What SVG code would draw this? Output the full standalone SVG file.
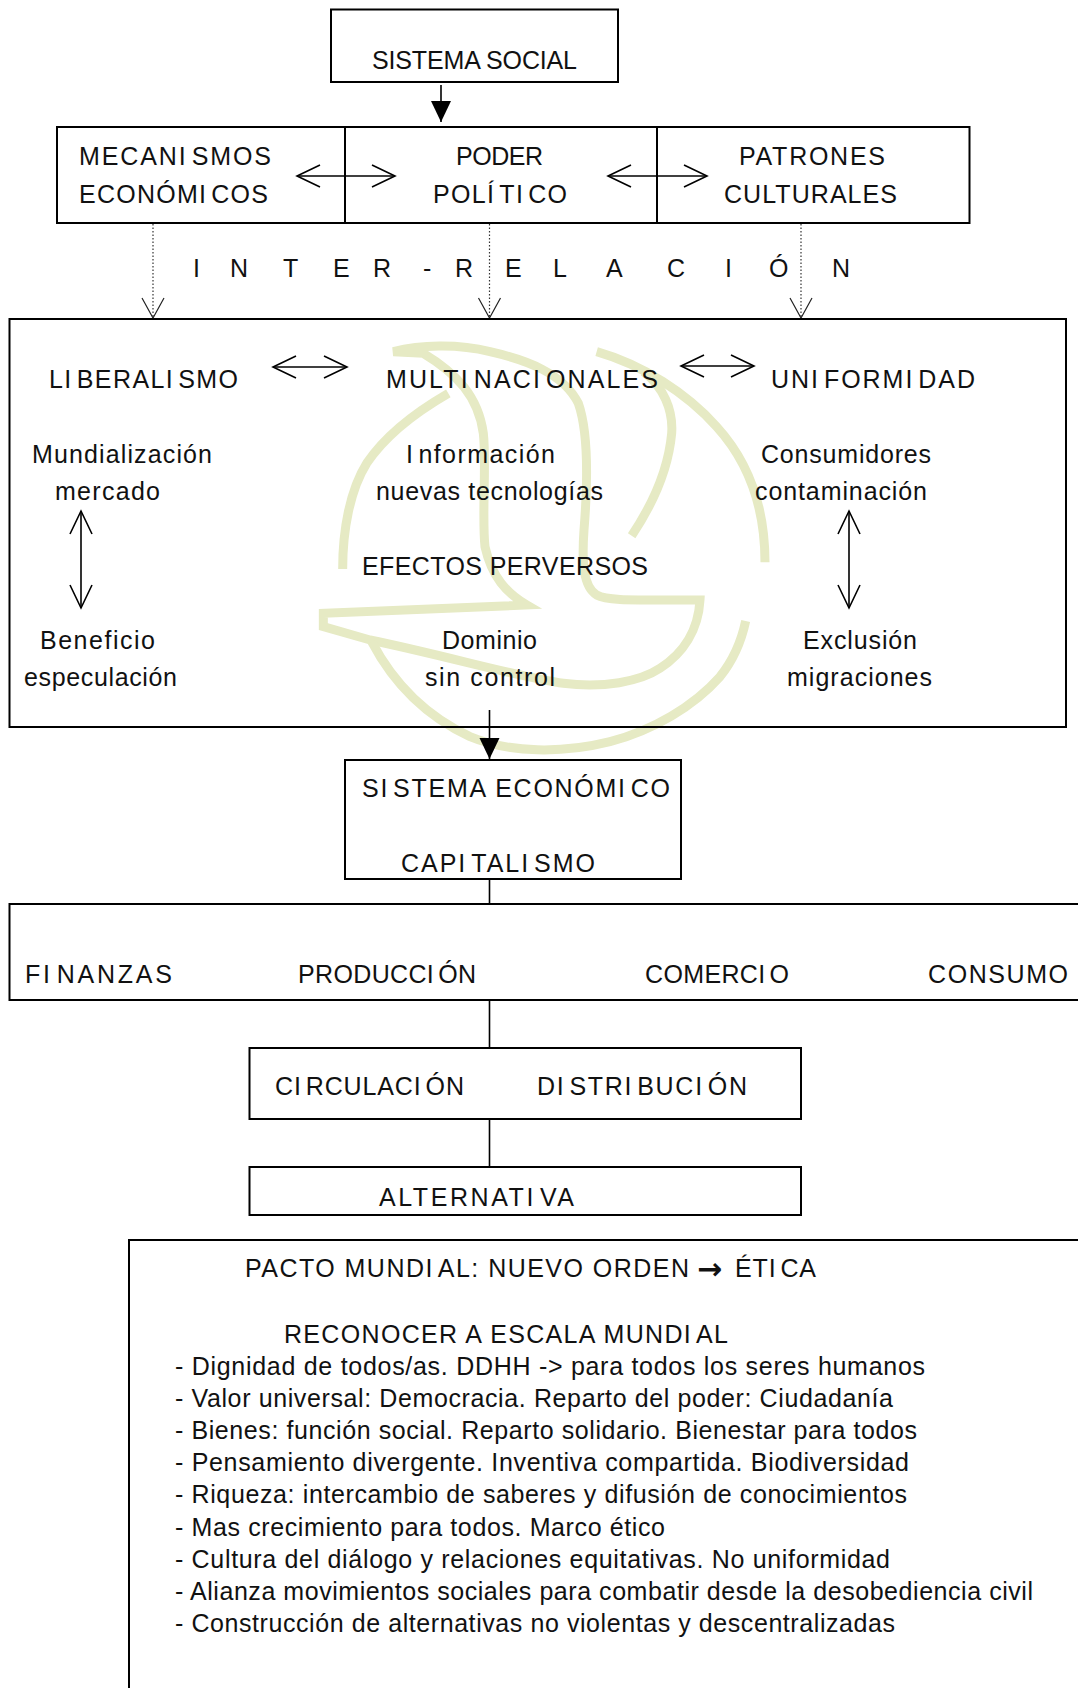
<svg xmlns="http://www.w3.org/2000/svg" width="1078" height="1688" viewBox="0 0 1078 1688">
<style>
text{font-family:"Liberation Sans",Arial,sans-serif;font-size:25px;fill:#111}
.box{fill:none;stroke:#000;stroke-width:2}
.ln{fill:none;stroke:#000;stroke-width:1.6}
.dot{fill:none;stroke:#333;stroke-width:1.2;stroke-dasharray:1.5 2}
.wm{fill:none;stroke:#e6eac4;stroke-width:27;stroke-linejoin:miter}
</style>
<defs>
<marker id="open" markerUnits="userSpaceOnUse" markerWidth="30" markerHeight="30" refX="25" refY="13" orient="auto-start-reverse"><path d="M2 2L25 13L2 24" fill="none" stroke="#000" stroke-width="1.6"/></marker>
<marker id="openDot" markerUnits="userSpaceOnUse" markerWidth="30" markerHeight="30" refX="22" refY="13" orient="auto"><path d="M2 2L22 13L2 24" fill="none" stroke="#222" stroke-width="1.2"/></marker>
<marker id="solid" markerUnits="userSpaceOnUse" markerWidth="30" markerHeight="30" refX="21" refY="11" orient="auto"><path d="M0 1L21 11L0 21Z" fill="#000"/></marker>
</defs>
<rect width="1078" height="1688" fill="#fff"/>
<g id="watermark" transform="translate(310 330) scale(.33333)">
<path class="wm" d="M250 65C330 45 440 40 540 65C650 90 760 130 805 220C840 320 830 500 822 600C815 700 820 770 860 795C890 812 950 810 1170 810C1165 900 1120 970 1050 1015C990 1055 880 1075 760 1060C640 1045 400 975 180 930L40 890L40 850L650 825C590 790 545 740 525 650C515 560 530 400 520 310C505 200 440 130 340 70Z"/>
<path class="wm" d="M415 190C320 245 230 310 170 400C120 480 98 600 98 717"/>
<path class="wm" d="M860 65C1000 105 1130 190 1220 290C1320 400 1365 540 1365 697"/>
<path class="wm" d="M965 617C1030 520 1075 420 1085 310C1090 240 1060 170 1000 125"/>
<path class="wm" d="M185 935C240 1040 330 1150 480 1220C600 1270 760 1270 900 1235C1030 1200 1150 1130 1230 1040C1270 990 1295 930 1307 873"/>
</g>
<g id="connectors">
<path class="ln" d="M441 85V122" marker-end="url(#solid)"/>
<path class="ln" d="M297 176H395" marker-start="url(#open)" marker-end="url(#open)"/>
<path class="ln" d="M608 176H707" marker-start="url(#open)" marker-end="url(#open)"/>
<path class="dot" d="M153 224V318" marker-end="url(#openDot)"/>
<path class="dot" d="M489.5 224V318" marker-end="url(#openDot)"/>
<path class="dot" d="M801 224V318" marker-end="url(#openDot)"/>
<path class="ln" d="M273 367H347" marker-start="url(#open)" marker-end="url(#open)"/>
<path class="ln" d="M681 366H754" marker-start="url(#open)" marker-end="url(#open)"/>
<path class="ln" d="M81 511V608" marker-start="url(#open)" marker-end="url(#open)"/>
<path class="ln" d="M849 511V608" marker-start="url(#open)" marker-end="url(#open)"/>
<path class="ln" d="M489.5 710V759" marker-end="url(#solid)"/>
<path class="ln" d="M489.5 879V904M489.5 999V1048M489.5 1119V1167"/>
</g>
<g id="sistema-social"><rect class="box" x="331" y="9.5" width="287" height="72.5"/>
<text x="372" y="69" textLength="205">SISTEMA SOCIAL</text></g>
<g id="mecanismos"><rect class="box" x="57" y="127" width="288" height="96"/>
<text x="79" y="165" textLength="192">MECANI<tspan dx="4">SMOS</tspan></text>
<text x="79" y="203" textLength="189">ECONÓMI<tspan dx="4">COS</tspan></text></g>
<g id="poder"><rect class="box" x="345" y="127" width="312" height="96"/>
<text x="456" y="165" textLength="87">PODER</text>
<text x="433" y="203" textLength="134">POLÍ<tspan dx="4">T</tspan>I<tspan dx="4">CO</tspan></text></g>
<g id="patrones"><rect class="box" x="657" y="127" width="312.5" height="96"/>
<text x="739" y="165" textLength="146">PATRONES</text>
<text x="724" y="203" textLength="173">CULTURALES</text></g>
<g id="inter-relacion"><text y="277" x="193 230 283 333 373 423 455 505 553 606 667 725 769 832">INTER-RELACIÓN</text></g>
<g id="efectos"><rect class="box" x="9.5" y="319" width="1056.5" height="408"/>
<text x="49" y="388" textLength="189">LI<tspan dx="4">BERALI</tspan><tspan dx="4">SMO</tspan></text>
<text x="386" y="388" textLength="272">MULTI<tspan dx="4">NACI</tspan><tspan dx="4">ONALES</tspan></text>
<text x="771" y="388" textLength="204">UNI<tspan dx="4">FORMI</tspan><tspan dx="4">DAD</tspan></text>
<text x="32" y="463" textLength="180">Mundialización</text>
<text x="55" y="500" textLength="105">mercado</text>
<text x="406" y="463" textLength="149">I<tspan dx="4">nformación</tspan></text>
<text x="376" y="500" textLength="227">nuevas tecnologías</text>
<text x="761" y="463" textLength="170">Consumidores</text>
<text x="755" y="500" textLength="172">contaminación</text>
<text x="362" y="575" textLength="286">EFECTOS PERVERSOS</text>
<text x="40" y="649" textLength="115">Beneficio</text>
<text x="24" y="686" textLength="153">especulación</text>
<text x="442" y="649" textLength="95">Dominio</text>
<text x="425" y="686" textLength="130">sin control</text>
<text x="803" y="649" textLength="114">Exclusión</text>
<text x="787" y="686" textLength="145">migraciones</text></g>
<g id="sistema-economico"><rect class="box" x="345" y="760" width="336" height="119"/>
<text x="362" y="797" textLength="308">SI<tspan dx="4">STEMA ECONÓMI</tspan><tspan dx="4">CO</tspan></text>
<text x="401" y="872" textLength="194">CAPI<tspan dx="4">TALI</tspan><tspan dx="4">SMO</tspan></text></g>
<g id="finanzas"><rect class="box" x="9.5" y="904" width="1080" height="96"/>
<text x="25" y="983" textLength="147">FI<tspan dx="4">NANZAS</tspan></text>
<text x="298" y="983" textLength="178">PRODUCCI<tspan dx="4">ÓN</tspan></text>
<text x="645" y="983" textLength="144">COMERCI<tspan dx="4">O</tspan></text>
<text x="928" y="983" textLength="140">CONSUMO</text></g>
<g id="circulacion"><rect class="box" x="249.5" y="1048" width="551.5" height="71"/>
<text x="275" y="1095" textLength="189">CI<tspan dx="4">RCULACI</tspan><tspan dx="4">ÓN</tspan></text>
<text x="537" y="1095" textLength="210">DI<tspan dx="4">STRI</tspan><tspan dx="4">BUCI</tspan><tspan dx="4">ÓN</tspan></text></g>
<g id="alternativa"><rect class="box" x="249.5" y="1167" width="551.5" height="48"/>
<text x="379" y="1206" textLength="195">ALTERNATI<tspan dx="4">VA</tspan></text></g>
<g id="pacto"><rect class="box" x="129" y="1240" width="1000" height="500"/>
<text x="245" y="1277" textLength="444">PACTO MUNDI<tspan dx="4">AL: NUEVO ORDEN</tspan></text>
<text x="697" y="1279" style="font-family:'DejaVu Sans',sans-serif;font-weight:bold;font-size:30px">→</text>
<text x="735" y="1277" textLength="81">ÉTI<tspan dx="4">CA</tspan></text>
<text x="284" y="1343" textLength="444">RECONOCER A ESCALA MUNDI<tspan dx="4">AL</tspan></text>
<text x="175" y="1375" textLength="750">- Dignidad de todos/as. DDHH -&gt; para todos los seres humanos</text>
<text x="175" y="1406.5" textLength="718">- Valor universal: Democracia. Reparto del poder: Ciudadanía</text>
<text x="175" y="1438.5" textLength="742">- Bienes: función social. Reparto solidario. Bienestar para todos</text>
<text x="175" y="1470.5" textLength="734">- Pensamiento divergente. Inventiva compartida. Biodiversidad</text>
<text x="175" y="1503" textLength="732">- Riqueza: intercambio de saberes y difusión de conocimientos</text>
<text x="175" y="1536" textLength="490">- Mas crecimiento para todos. Marco ético</text>
<text x="175" y="1568" textLength="715">- Cultura del diálogo y relaciones equitativas. No uniformidad</text>
<text x="175" y="1599.5" textLength="858">- Alianza movimientos sociales para combatir desde la desobediencia civil</text>
<text x="175" y="1632" textLength="720">- Construcción de alternativas no violentas y descentralizadas</text></g>
</svg>
